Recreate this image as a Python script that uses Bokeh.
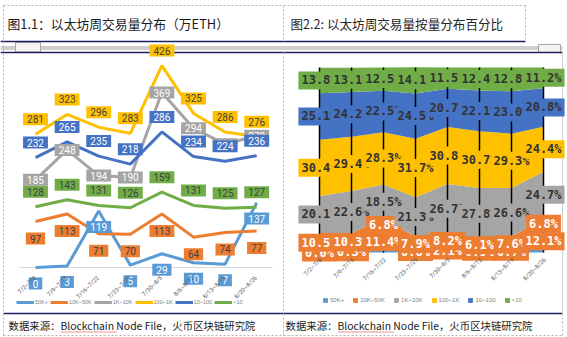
from math import pi
from bokeh.plotting import figure
from bokeh.models import Range1d, ColumnDataSource, Legend, LegendItem
from bokeh.core.properties import value
from bokeh.embed import file_html
from bokeh.resources import INLINE

# ---------------- data ----------------
weeks = ["7/2~7/8", "7/9~7/15", "7/16~7/22", "7/23~7/29",
         "7/30~8/5", "8/6~8/12", "8/13~8/19", "8/20~8/26"]
series = ["50K+", "10K~50K", "1K~10K", "100~1K", "10~100", "<10"]

# weekly volume, 10k ETH
vol_50k = [0, 3, 119, 5, 29, 10, 7, 137]
vol_10k_50k = [97, 113, 71, 70, 113, 64, 74, 77]
vol_1k_10k = [185, 248, 194, 190, 369, 294, 260, 278]
vol_100_1k = [281, 323, 296, 283, 426, 325, 286, 276]
vol_10_100 = [232, 265, 235, 218, 286, 234, 224, 236]
vol_lt10 = [128, 143, 131, 126, 159, 131, 125, 127]

# share of weekly volume, %
pct_50k = [0.0, 0.3, 11.4, 0.6, 2.1, 0.9, 0.7, 12.1]
pct_10k_50k = [10.5, 10.3, 6.8, 7.9, 8.2, 6.1, 7.6, 6.8]
pct_1k_10k = [20.1, 22.6, 18.5, 21.3, 26.7, 27.8, 26.6, 24.7]
pct_100_1k = [30.4, 29.4, 28.3, 31.7, 30.8, 30.7, 29.3, 24.4]
pct_10_100 = [25.1, 24.2, 22.5, 24.5, 20.7, 22.1, 23.0, 20.8]
pct_lt10 = [13.8, 13.1, 12.5, 14.1, 11.5, 12.4, 12.8, 11.2]

title_left = "图1.1：以太坊周交易量分布（万ETH）"
title_right = "图2.2: 以太坊周交易量按量分布百分比"
source_note = "数据来源：Blockchain Node File，火币区块链研究院"

# ---------------- styles / layout ----------------
colors = ["#5B9BD5", "#ED7D31", "#A5A5A5", "#FFC000", "#4472C4", "#70AD47"]
left_text_colors = ["white", "#404040", "white", "#404040", "white", "#404040"]
left_offsets_px = [-16, -17, 0, 15, 15, 15]     # + above, - below
right_text_colors = ["white", "white", "#333333", "#333333", "#333333", "#333333"]
right_box_colors = ["#ED7D31", "#ED7D31", "#A5A5A5", "#FFC000", "#4472C4", "#70AD47"]

W, H = 567, 337
CJK = value("Noto Sans CJK SC")

# left chart geometry (px)
LX0, LDX, LY0, LKY = 35.0, 31.6, 267.0, 0.474
# right chart geometry (px)
RX0, RDX, RY0, RKY = 319.0, 32.0, 252.0, 1.85

p = figure(width=W, height=H, x_range=Range1d(0, W), y_range=Range1d(H, 0),
           output_backend="svg", toolbar_location=None, min_border=0,
           x_axis_location=None, y_axis_location=None,
           background_fill_color="white", border_fill_color="white")
p.xgrid.visible = False
p.ygrid.visible = False
p.outline_line_color = None

p.extra_x_ranges = {
    "lx": Range1d(-LX0 / LDX, (W - LX0) / LDX),
    "rx": Range1d(-RX0 / RDX, (W - RX0) / RDX),
}
p.extra_y_ranges = {
    "ly": Range1d(-(H - LY0) / LKY, LY0 / LKY),
    "ry": Range1d(-(H - RY0) / RKY, RY0 / RKY),
}

# ---------------- page decoration (px coordinates) ----------------
navy = "#1f2060"
p.quad(left=[0, 538], right=[562, 560], top=[45.5, 44], bottom=[49.5, 52],
       fill_color=["#cfcfcf", "#f4f4f4"], line_color=[None, "#a6a6a6"])
p.quad(left=[15], right=[40], top=[42], bottom=[51.5], fill_color="#f4f4f4",
       line_color="#a6a6a6")
p.segment(x0=[0, 0, 283, 283, 3], y0=[41, 52, 41, 52, 313],
          x1=[283, 283, 525, 562, 562], y1=[41, 52, 41, 52, 313],
          line_color=navy, line_width=1.5)
p.segment(x0=[3, 3, 283, 525, 3, 283, 562, 283],
          y0=[5, 5, 5, 5, 335, 313, 313, 52],
          x1=[525, 3, 283, 525, 562, 283, 562, 283],
          y1=[5, 335, 40, 40, 335, 335, 335, 313],
          line_color="#b4b4b4", line_width=1, line_dash="2 2")
p.segment(x0=[562], y0=[52], x1=[562], y1=[313], line_color="#d0d0d0", line_width=1)

p.text(x=[7], y=[23], text=[title_left], text_font=CJK,
       text_font_size="12.8px", text_baseline="middle", text_color="#1a1a1a")
p.text(x=[290], y=[23], text=[title_right], text_font=CJK,
       text_font_size="12.6px", text_baseline="middle", text_color="#262626")
p.text(x=[8, 285], y=[325, 325], text=[source_note, source_note], text_font=CJK,
       text_font_size="10.4px", text_baseline="middle", text_color="#1a1a1a")
# spell-check squiggle under "Blockchain"
p.segment(x0=[61, 338], y0=[331.5, 331.5], x1=[116, 393], y1=[331.5, 331.5],
          line_color="#e02020", line_width=1, line_dash="1 1")

# ---------------- left chart: lines ----------------
idx = list(range(len(weeks)))
left_vals = [vol_50k, vol_10k_50k, vol_1k_10k, vol_100_1k, vol_10_100, vol_lt10]

p.segment(x0=[-0.5], y0=[0], x1=[len(weeks) - 0.5], y1=[0], line_color="#d9d9d9",
          line_width=1, x_range_name="lx", y_range_name="ly")

line_rs = []
for vals, c in zip(left_vals, colors):
    r = p.line(idx, vals, line_color=c, line_width=3, x_range_name="lx", y_range_name="ly")
    line_rs.append(r)

for vals, c, tc, off in zip(left_vals, colors, left_text_colors, left_offsets_px):
    p.text(x=idx, y=[v + off / LKY for v in vals], text=[str(v) for v in vals],
           x_range_name="lx", y_range_name="ly", text_align="center",
           text_baseline="middle", text_font=value("Roboto"), text_font_size="10px",
           text_color=tc, background_fill_color=c,
           padding=dict(left=4, right=4, top=2, bottom=2))

p.text(x=[i - 1 / LDX for i in idx], y=[-9 / LKY] * len(idx), text=weeks,
       angle=pi / 4, text_align="right", text_baseline="middle",
       text_font=value("Roboto"), text_font_size="6px", text_color="#595959",
       x_range_name="lx", y_range_name="ly")

left_legend = Legend(items=[LegendItem(label=s, renderers=[r]) for s, r in zip(series, line_rs)],
                     orientation="horizontal", location=(16, H - 305),
                     glyph_width=18, glyph_height=6, label_height=6, label_width=8,
                     label_standoff=1, spacing=2, padding=0, margin=0,
                     label_text_font_size="5.5px", label_text_color="#7f7f7f",
                     background_fill_alpha=0, border_line_color=None)
p.add_layout(left_legend)

# ---------------- right chart: 100% stacked area ----------------
right_vals = [pct_50k, pct_10k_50k, pct_1k_10k, pct_100_1k, pct_10_100, pct_lt10]
src = ColumnDataSource({"x": idx, **{s: v for s, v in zip(series, right_vals)}})
area_rs = p.varea_stack(stackers=series, x="x", color=colors, source=src,
                        x_range_name="rx", y_range_name="ry")

p.segment(x0=idx, y0=[0] * len(idx), x1=idx, y1=[100] * len(idx),
          line_color="black", line_width=1.5, x_range_name="rx", y_range_name="ry")

for i in idx:
    base = 0.0
    for j, vals in enumerate(right_vals):
        v = vals[i]
        mid = base + v / 2
        base += v
        p.text(x=[i], y=[mid], text=[f"{v:.1f}%"], x_range_name="rx", y_range_name="ry",
               text_align="center", text_baseline="middle",
               text_font=value("DejaVu Sans Mono"), text_font_style="bold",
               text_font_size="12px", text_color=right_text_colors[j],
               background_fill_color=right_box_colors[j],
               padding=dict(left=3, right=3, top=2, bottom=2))

p.text(x=[i + 1 / RDX for i in idx], y=[-6 / RKY] * len(idx), text=weeks,
       angle=pi / 4, text_align="right", text_baseline="middle",
       text_font=value("Roboto"), text_font_size="6px", text_color="#595959",
       x_range_name="rx", y_range_name="ry")

right_legend = Legend(items=[LegendItem(label=s, renderers=[r]) for s, r in zip(series, area_rs)],
                      orientation="horizontal", location=(322, H - 303),
                      glyph_width=6, glyph_height=6, label_height=6, label_width=8,
                      label_standoff=2, spacing=8, padding=0, margin=0,
                      label_text_font_size="6px", label_text_color="#7f7f7f",
                      background_fill_alpha=0, border_line_color=None)
p.add_layout(right_legend)

open("out.html", "w").write(file_html(p, INLINE))
